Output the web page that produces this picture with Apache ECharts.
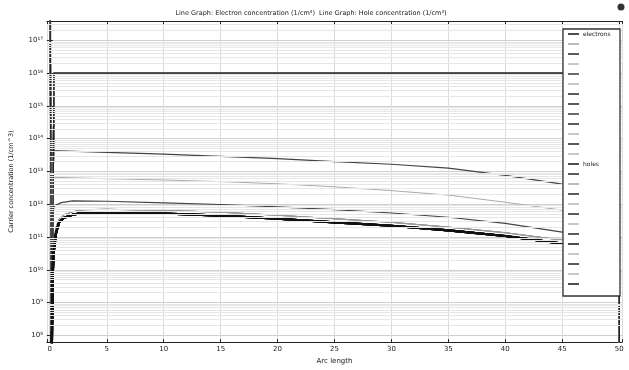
<!DOCTYPE html>
<html>
<head>
<meta charset="utf-8">
<script src="https://cdn.jsdelivr.net/npm/echarts@6/dist/echarts.min.js"></script>
<style>
html, body { margin: 0; padding: 0; background: #fff; }
#chart { width: 629px; height: 370px; }
</style>
</head>
<body>
<div id="chart"></div>
<script>
// arc length (x) vs carrier concentration 1/cm^3 (y)
const electrons = [[0, 1e20], [0.18, 1e6], [0.36, 1e16], [50, 1e16], [50.02, 1e6]];
const holesA = [[0.15, 3e13], [0.2, 4.3e13], [5, 3.8e13], [10, 3.4e13], [15, 2.9e13], [20, 2.45e13], [25, 2.0e13],
    [30, 1.66e13], [35, 1.26e13], [40, 7.6e12], [45, 4.1e12], [47.5, 2.5e12], [50, 1.26e12]];
const holesB = [[0.2, 5e12], [0.3, 6.6e12], [5, 6.0e12], [10, 5.5e12], [15, 4.9e12], [20, 4.2e12], [25, 3.4e12],
    [30, 2.6e12], [35, 1.9e12], [40, 1.15e12], [45, 6.6e11], [47.5, 4e11], [50, 2e11]];
const holesC = [[0.2, 4e11], [0.4, 8.9e11], [1, 1.12e12], [2, 1.26e12], [5, 1.23e12], [10, 1.1e12], [15, 9.8e11],
    [20, 8.3e11], [25, 6.8e11], [30, 5.4e11], [35, 4e11], [40, 2.6e11], [45, 1.4e11], [47.5, 9e10], [50, 5e10]];
const holesD = [[0.18, 5e7], [0.25, 6.3e9], [0.33, 3.2e10], [0.55, 1.35e11], [0.8, 2.7e11], [1.2, 3.8e11], [2, 4.8e11],
    [3, 5.5e11], [5, 5.6e11], [10, 5.2e11], [15, 4.5e11], [20, 3.6e11], [25, 2.8e11], [30, 2.2e11], [35, 1.6e11],
    [40, 1.07e11], [45, 6.3e10], [47.5, 4e10], [50, 2e10]];
const holesD2 = [[0.2, 1e9], [0.25, 2e10], [0.35, 8e10], [0.55, 2e11], [0.8, 3.5e11], [1.2, 4.7e11], [2, 5.9e11],
    [3, 6.8e11], [5, 7e11], [10, 6.5e11], [15, 5.7e11], [20, 4.6e11], [25, 3.6e11], [30, 2.8e11], [35, 2e11],
    [40, 1.35e11], [45, 8e10], [50, 2.5e10]];

const electronColors = ['#222', '#aaa', '#333', '#bbb', '#444', '#bbb', '#333', '#333', '#444', '#333', '#bbb', '#333', '#bbb'];
const holeColors = ['#222', '#333', '#aaa', '#333', '#bbb', '#333', '#bbb', '#333', '#222', '#bbb', '#333', '#bbb', '#222'];
const holeCurves = [holesA, holesD, holesB, holesC, holesD2, holesD, holesD2, holesD, holesD, holesD2, holesD, holesD2, holesD];
const decades = [8, 9, 10, 11, 12, 13, 14, 15, 16, 17];
const sup = '⁰¹²³⁴⁵⁶⁷⁸⁹';

const myChart = echarts.init(document.getElementById('chart'));

// light horizontal lines at 2..9 x 10^n
const minorLines = [];
decades.forEach(d => {
    for (let k = 2; k <= 9; k++) minorLines.push({yAxis: k * Math.pow(10, d)});
});

const series = [{
    name: 'grid',
    type: 'line',
    z: 1,
    data: [],
    silent: true,
    markLine: {
        silent: true,
        symbol: 'none',
        label: {show: false},
        lineStyle: {color: '#e6e6e6', type: 'solid', width: 1},
        data: minorLines
    }
}];
const names = [];
electronColors.forEach((c, i) => {
    const name = i === 0 ? 'electrons' : 'electrons #' + i;
    names.push(name);
    series.push({
        name: name, type: 'line', data: electrons, symbol: 'none',
        lineStyle: {color: c, width: 1.3}, itemStyle: {color: c}, z: i === 0 ? 3 : 2
    });
});
holeColors.forEach((c, i) => {
    const name = i === 0 ? 'holes' : 'holes #' + i;
    names.push(name);
    const curve = holeCurves[i];
    const w = curve === holesD ? 2.2 : (curve === holesB || curve === holesD2 ? 1 : 1.2);
    const col = curve === holesD ? '#111' : (curve === holesB ? '#aaa' : (curve === holesD2 ? '#999' : '#444'));
    series.push({
        name: name, type: 'line', data: curve, symbol: 'none',
        lineStyle: {color: col, width: w}, itemStyle: {color: c}, z: curve === holesD ? 3 : 2
    });
});

const tickFont = {fontSize: 7, color: '#222', fontFamily: 'DejaVu Sans'};
const option = {
    backgroundColor: '#fff',
    animation: false,
    title: {
        text: 'Line Graph: Electron concentration (1/cm³)  Line Graph: Hole concentration (1/cm³)',
        left: 306, top: 5, textAlign: 'center',
        textStyle: {fontSize: 6.5, fontWeight: 'normal', color: '#222', fontFamily: 'DejaVu Sans'}
    },
    grid: {left: 46, right: 7, top: 21, bottom: 22},
    legend: {
        data: names,
        orient: 'vertical',
        left: 568, top: 31,
        padding: 0,
        itemWidth: 11, itemHeight: 1.6, itemGap: 4,
        icon: 'rect',
        z: 20,
        formatter: name => name.indexOf('#') >= 0 ? ' ' : name,
        textStyle: {fontSize: 6, lineHeight: 6, color: '#222', fontFamily: 'DejaVu Sans', padding: [0, 0, 0, -1]}
    },
    graphic: {
        z: 10,
        elements: [{
            type: 'rect', z: 10,
            shape: {x: 563, y: 29, width: 57, height: 267},
            style: {fill: '#fff', stroke: '#333', lineWidth: 1.3}
        }, {
            type: 'circle', z: 10,
            shape: {cx: 621, cy: 7, r: 3.5},
            style: {fill: '#333'}
        }]
    },
    xAxis: [{
        type: 'value', min: -0.25, max: 50.25, splitNumber: 10,
        name: 'Arc length', nameLocation: 'middle', nameGap: 12,
        nameTextStyle: {fontSize: 7, color: '#222', fontFamily: 'DejaVu Sans'},
        axisLine: {show: true, lineStyle: {color: '#222', width: 1.2}},
        axisTick: {show: true, inside: true, length: 3, lineStyle: {color: '#222'}},
        axisLabel: Object.assign({margin: 4, formatter: v => (Math.abs(v % 5) < 1e-6 ? String(v) : '')}, tickFont),
        splitLine: {show: true, lineStyle: {color: '#dcdcdc', width: 1}}
    }, {
        type: 'value', min: -0.25, max: 50.25, splitNumber: 10, position: 'top',
        axisLine: {show: true, lineStyle: {color: '#222', width: 1.2}},
        axisTick: {show: true, inside: true, length: 3, lineStyle: {color: '#222'}},
        axisLabel: {show: false},
        splitLine: {show: false}
    }],
    yAxis: [{
        type: 'log', min: 6.2e7, max: 3.9e17,
        name: 'Carrier concentration (1/cm^3)', nameLocation: 'middle', nameGap: 32,
        nameTextStyle: {fontSize: 6.5, color: '#222', fontFamily: 'DejaVu Sans'},
        axisLine: {show: true, lineStyle: {color: '#222', width: 1.2}},
        axisTick: {show: true, inside: true, length: 3, lineStyle: {color: '#222'}},
        axisLabel: Object.assign({
            margin: 4,
            formatter(v) {
                const e = Math.log10(v);
                if (Math.abs(e - Math.round(e)) > 0.01) return '';
                return '10' + String(Math.round(e)).split('').map(ch => sup[+ch]).join('');
            }
        }, tickFont),
        splitLine: {show: true, lineStyle: {color: '#cfcfcf', width: 1}}
    }, {
        type: 'log', min: 6.2e7, max: 3.9e17, position: 'right',
        axisLine: {show: true, lineStyle: {color: '#222', width: 1.2}},
        axisTick: {show: true, inside: true, length: 3, lineStyle: {color: '#222'}},
        axisLabel: {show: false},
        splitLine: {show: false}
    }],
    series: series
};
myChart.setOption(option);
</script>
</body>
</html>
